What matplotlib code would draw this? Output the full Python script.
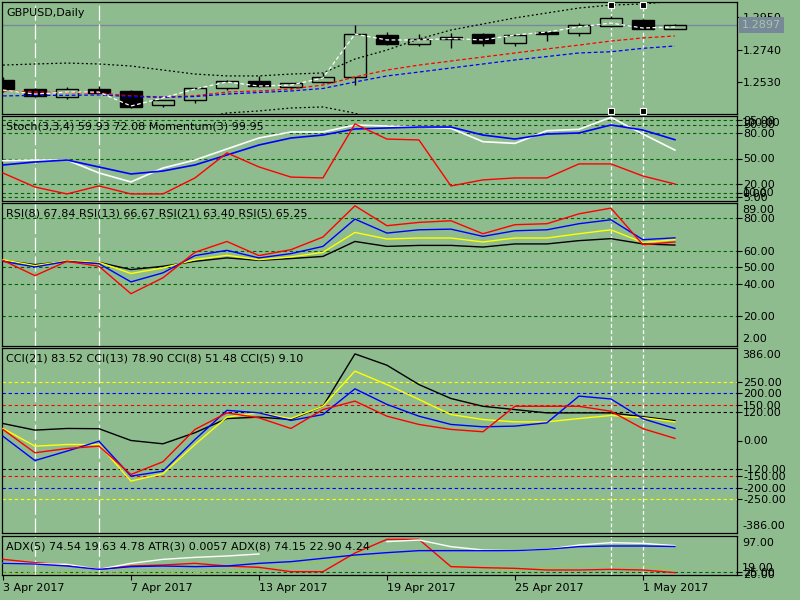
import matplotlib
matplotlib.use('Agg')
import matplotlib.pyplot as plt
import matplotlib.transforms as mtrans
import numpy as np

BG = '#8fbc8f'
LVL = '#006400'
W, H = 800, 600

# GBPUSD daily candles, 3 Apr 2017 .. 2 May 2017
opens  = [1.2544, 1.2486, 1.2434, 1.2486, 1.2473, 1.2382, 1.2414, 1.2492, 1.2537, 1.2499, 1.2531,
          1.2563, 1.2834, 1.2776, 1.2808, 1.2840, 1.2782, 1.2853, 1.2847, 1.2892, 1.2931, 1.2873]
highs  = [1.2563, 1.2492, 1.2499, 1.2505, 1.2479, 1.2416, 1.2495, 1.2544, 1.2569, 1.2527, 1.2589,
          1.2898, 1.2853, 1.2840, 1.2847, 1.2847, 1.2837, 1.2860, 1.2911, 1.2956, 1.2937, 1.2905]
lows   = [1.2466, 1.2434, 1.2421, 1.2458, 1.2363, 1.2370, 1.2395, 1.2479, 1.2499, 1.2486, 1.2524,
          1.2511, 1.2769, 1.2763, 1.2750, 1.2763, 1.2763, 1.2795, 1.2827, 1.2886, 1.2870, 1.2870]
closes = [1.2486, 1.2440, 1.2486, 1.2461, 1.2370, 1.2414, 1.2492, 1.2537, 1.2505, 1.2524, 1.2563,
          1.2840, 1.2776, 1.2808, 1.2821, 1.2782, 1.2834, 1.2840, 1.2898, 1.2944, 1.2873, 1.2897]
last_price = 1.2897

# moving averages / bands on the price chart
ma_white = [1.2479, 1.2453, 1.2466, 1.2466, 1.2376, 1.2428, 1.2486, 1.2531, 1.2505, 1.2511, 1.2557,
            1.2840, 1.2802, 1.2802, 1.2811, 1.2802, 1.2834, 1.2853, 1.2886, 1.2911, 1.2879, 1.2886]
ma_red   = [1.2473, 1.2466, 1.2463, 1.2460, 1.2441, 1.2434, 1.2442, 1.2466, 1.2473, 1.2486, 1.2511,
            1.2563, 1.2608, 1.2640, 1.2666, 1.2692, 1.2718, 1.2744, 1.2769, 1.2795, 1.2815, 1.2828]
ma_blue  = [1.2441, 1.2444, 1.2445, 1.2447, 1.2437, 1.2432, 1.2437, 1.2453, 1.2463, 1.2473, 1.2489,
            1.2531, 1.2570, 1.2595, 1.2621, 1.2647, 1.2673, 1.2695, 1.2718, 1.2726, 1.2748, 1.2763]
band_up  = [1.2640, 1.2647, 1.2653, 1.2647, 1.2634, 1.2608, 1.2582, 1.2570, 1.2570, 1.2582, 1.2589,
            1.2679, 1.2737, 1.2808, 1.2866, 1.2905, 1.2944, 1.2976, 1.3008, 1.3027, 1.3034, 1.3053]
band_dn  = [1.2290, 1.2290, 1.2285, 1.2280, 1.2270, 1.2275, 1.2290, 1.2331, 1.2344, 1.2363, 1.2370,
            1.2330, 1.2250, 1.2200, 1.2170, 1.2150, 1.2130, 1.2110, 1.2090, 1.2080, 1.2070, 1.2060]

# Stochastic + Momentum
stoch_main = [47.4, 48.2, 48.2, 33.0, 22.4, 38.8, 48.2, 61.2, 74.1, 81.2, 81.2,
              89.4, 88.2, 87.0, 85.5, 69.8, 67.8, 82.7, 84.3, 98.4, 78.8, 59.9]
stoch_sig  = [42.4, 45.9, 48.2, 40.0, 31.8, 35.3, 42.4, 54.1, 65.9, 74.1, 77.6,
              84.7, 85.9, 87.0, 87.0, 77.6, 72.9, 78.8, 80.0, 89.4, 83.5, 72.1]
momentum   = [100.46, 99.81, 99.49, 99.86, 99.49, 99.49, 100.23, 101.39, 100.74, 100.27, 100.23,
              102.73, 102.03, 101.99, 99.86, 100.14, 100.23, 100.23, 100.88, 100.88, 100.32, 99.95]

# RSI
rsi5  = [54.1, 44.8, 53.5, 50.5, 33.8, 43.5, 59.0, 65.6, 57.0, 60.6, 68.3,
         87.3, 75.2, 77.2, 78.2, 70.3, 75.8, 76.4, 82.4, 85.9, 63.6, 65.3]
rsi8  = [53.5, 50.1, 53.5, 52.1, 41.0, 46.5, 57.0, 60.2, 55.6, 58.2, 62.6,
         79.2, 70.7, 72.7, 73.1, 68.7, 72.1, 72.7, 76.4, 78.8, 66.7, 67.8]
rsi13 = [54.5, 50.9, 53.9, 52.9, 46.1, 49.5, 54.5, 57.2, 54.5, 56.2, 59.0,
         71.1, 67.1, 67.7, 67.7, 65.3, 67.7, 67.7, 70.3, 72.7, 65.0, 66.7]
rsi21 = [54.1, 51.5, 53.5, 52.9, 48.5, 50.5, 53.5, 55.6, 54.1, 55.2, 56.5,
         65.6, 62.6, 63.2, 63.2, 62.2, 64.1, 64.1, 66.1, 67.3, 64.1, 63.4]

# CCI
cci21 = [72, 44, 51, 50, 0, -14, 33, 93, 99, 89, 145, 367, 319, 237, 178, 145, 131, 117, 117, 117, 101, 84]
cci13 = [51, -24, -17, -17, -172, -141, -17, 99, 117, 93, 145, 294, 237, 174, 110, 89, 79, 79, 93, 106, 97, 79]
cci8  = [18, -85, -45, -3, -151, -130, 4, 128, 117, 85, 110, 219, 153, 103, 68, 58, 61, 75, 188, 176, 92, 51]
cci5  = [47, -52, -34, -24, -144, -90, 47, 117, 96, 51, 131, 167, 103, 68, 47, 37, 145, 145, 145, 124, 50, 9]

# ADX / ATR panel
adx_white = [42.3, 41.7, 40.3, 30.3, 42.3, 50.3, 54.3, 57.0, 61.0, np.nan, np.nan,
             np.nan, 85.7, 89.0, 75.7, 69.0, 67.7, 70.3, 79.0, 83.7, 82.3, 77.7]
adx_blue  = [42.3, 41.0, 37.0, 30.3, 35.7, 37.0, 35.7, 37.0, 42.3, 45.7, 52.3,
             59.0, 63.7, 67.7, 67.7, 67.7, 67.7, 70.3, 75.7, 77.0, 77.0, 76.0]
adx_red   = [50.3, 43.7, 39.0, 30.3, 37.0, 39.0, 42.3, 37.0, 34.3, 25.7, 25.7,
             63.0, 90.3, 90.3, 35.7, 33.7, 32.3, 29.0, 29.0, 30.3, 29.0, 23.7]
adx_lime  = [23.0, 23.0, 23.0, 23.0, 23.0, 23.0, 23.7, 25.7, 29.0, 37.0, 45.7,
             54.3, 50.3, 45.7, 39.0, 32.3, 27.7, 34.3, 41.0, 42.3, 37.0, 30.3]

tick_bars = [0, 4, 8, 12, 16, 20]
tick_labels = ['3 Apr 2017', '7 Apr 2017', '13 Apr 2017', '19 Apr 2017', '25 Apr 2017', '1 May 2017']
vline_long = [1, 3]
vline_short = [19, 20]

x = np.arange(len(closes))

fig = plt.figure(figsize=(8, 6), dpi=100, facecolor=BG)


def rect(top, bottom, left=2, right=737):
    return [left / W, 1 - bottom / H, (right - left) / W, (bottom - top) / H]


def right_ticks(ax):
    ax.yaxis.tick_right()
    ax.tick_params(axis='y', direction='out', length=3.5, width=0.8, pad=1, labelsize=8, colors='black')


def style(ax):
    ax.set_facecolor(BG)
    ax.set_xlim(-0.03, 22.94)
    for s in ax.spines.values():
        s.set_color('black')
        s.set_linewidth(0.9)
    right_ticks(ax)
    ax.tick_params(axis='x', bottom=False, labelbottom=False)


def title(ax, text):
    tr = mtrans.offset_copy(ax.transAxes, fig=fig, x=4, y=-10.5, units='dots')
    ax.text(0, 1, text, transform=tr, fontsize=8, va='center', ha='left', color='black', zorder=20)


def edge_label(ax, text, top):
    tr = mtrans.offset_copy(ax.transAxes, fig=fig, x=5, y=-7 if top else 7, units='dots')
    ax.text(1, 1 if top else 0, text, transform=tr, fontsize=8, va='center', ha='left', clip_on=False)


def levels(ax, vals, colors):
    for v, col in zip(vals, colors):
        ax.axhline(v, color=col, lw=0.8, ls=(0, (3, 2.5)), zorder=1)


def vlines(ax, full=True):
    for b in vline_long:
        ax.axvline(b, color='white', lw=0.9, ls=(0, (12, 3)), zorder=1.5)
    for b in vline_short:
        if full:
            ax.axvline(b, color='white', lw=0.9, ls=(0, (3, 2)), zorder=1.5)
        else:
            ax.axvline(b, ymin=0.027, ymax=0.973, color='white', lw=0.9, ls=(0, (3, 2)), zorder=1.5)


# ---- price panel
ax = fig.add_axes(rect(2, 114))
style(ax)
ax.set_ylim(1.23244, 1.30468)
ax.set_yticks([1.2530, 1.2740, 1.2950])
ax.set_yticklabels(['1.2530', '1.2740', '1.2950'])
vlines(ax, full=False)
ax.axhline(last_price, color='#778899', lw=1, zorder=1.2)
o = np.array(opens)
c = np.array(closes)
ax.vlines(x, lows, highs, color='black', lw=1, zorder=2)
ax.bar(x, np.maximum(np.abs(c - o), 0.00005), bottom=np.minimum(o, c), width=0.69,
       color=np.where(c >= o, BG, 'black'), edgecolor='black', lw=1, zorder=3)
ax.plot(x, band_up, color='black', lw=0.9, ls=(0, (1.5, 2)), zorder=4)
ax.plot(x, band_dn, color='black', lw=0.9, ls=(0, (1.5, 2)), zorder=4)
ax.plot(x, ma_red, color='red', lw=0.9, ls=(0, (3, 2)), zorder=4)
ax.plot(x, ma_blue, color='blue', lw=0.9, ls=(0, (3, 2)), zorder=4)
ax.plot(x, ma_white, color='white', lw=0.9, ls=(0, (3, 2)), zorder=5)
blend = mtrans.blended_transform_factory(ax.transData, ax.transAxes)
for yy in (0.027, 0.973):
    ax.plot(vline_short, [yy] * len(vline_short), transform=blend, ls='none', marker='s', ms=4,
            mfc='black', mec='white', mew=0.8, clip_on=False, zorder=6)
ax.text(1, last_price, '1.2897', transform=mtrans.offset_copy(
    mtrans.blended_transform_factory(ax.transAxes, ax.transData), fig=fig, x=5, y=0, units='dots'),
        fontsize=8, va='center', ha='left', color='#a9c4a9', clip_on=False, zorder=10,
        bbox=dict(boxstyle='square,pad=0.25', fc='#778899', ec='none'))
title(ax, 'GBPUSD,Daily')

# ---- stochastic panel
ax = fig.add_axes(rect(116, 201))
style(ax)
axm = ax.twinx()
axm.set_ylim(99.163, 103.098)
axm.axis('off')
axm.plot(x, momentum, color='red', lw=1.0)
right_ticks(ax)
ax.set_ylim(0, 100)
st_lv = [95, 90, 80, 50, 20, 10, 5]
ax.set_yticks(st_lv)
ax.set_yticklabels([f'{v:.2f}' for v in st_lv])
levels(ax, st_lv, [LVL] * len(st_lv))
vlines(ax)
ax.plot(x, stoch_main, color='white', lw=1.2, zorder=3)
ax.plot(x, stoch_sig, color='blue', lw=1.2, zorder=3)
edge_label(ax, '100.00', True)
edge_label(ax, '0.00', False)
title(axm, 'Stoch(3,3,4) 59.93 72.08 Momentum(3) 99.95')

# ---- RSI panel
ax = fig.add_axes(rect(203, 346))
style(ax)
ax.set_ylim(2, 89)
rsi_lv = [80, 60, 50, 40, 20]
ax.set_yticks(rsi_lv)
ax.set_yticklabels([f'{v:.2f}' for v in rsi_lv])
levels(ax, rsi_lv, [LVL] * len(rsi_lv))
vlines(ax)
ax.plot(x, rsi21, color='black', lw=1.0, zorder=3)
ax.plot(x, rsi13, color='yellow', lw=1.0, zorder=3)
ax.plot(x, rsi8, color='blue', lw=1.0, zorder=3)
ax.plot(x, rsi5, color='red', lw=1.0, zorder=3)
edge_label(ax, '89.00', True)
edge_label(ax, '2.00', False)
title(ax, 'RSI(8) 67.84 RSI(13) 66.67 RSI(21) 63.40 RSI(5) 65.25')

# ---- CCI panel
ax = fig.add_axes(rect(348, 533))
style(ax)
ax.set_ylim(-392, 392)
cci_lv = [250, 200, 150, 120, 0, -120, -150, -200, -250]
ax.set_yticks(cci_lv)
ax.set_yticklabels([f'{v:.2f}' for v in cci_lv])
levels(ax, [250, 200, 150, 120, -120, -150, -200, -250],
       ['yellow', 'blue', 'red', 'black', 'black', 'red', 'blue', 'yellow'])
vlines(ax)
ax.plot(x, cci21, color='black', lw=1.0, zorder=3)
ax.plot(x, cci13, color='yellow', lw=1.0, zorder=3)
ax.plot(x, cci8, color='blue', lw=1.0, zorder=3)
ax.plot(x, cci5, color='red', lw=1.0, zorder=3)
edge_label(ax, '386.00', True)
edge_label(ax, '-386.00', False)
title(ax, 'CCI(21) 83.52 CCI(13) 78.90 CCI(8) 51.48 CCI(5) 9.10')

# ---- ADX panel
ax = fig.add_axes(rect(536, 575))
style(ax)
ax.set_ylim(19, 97)
ax.set_yticks([25, 20])
ax.set_yticklabels(['25.00', '20.00'])
levels(ax, [25, 20], [LVL, LVL])
vlines(ax)
ax.plot(x, adx_lime, color='#9acd32', lw=0.9, ls=(0, (2, 2)), zorder=3)
ax.plot(x, adx_red, color='red', lw=1.0, zorder=3)
ax.plot(x, adx_white, color='white', lw=1.0, zorder=3)
ax.plot(x, adx_blue, color='blue', lw=1.0, zorder=3)
edge_label(ax, '97.00', True)
edge_label(ax, '19.00', False)
title(ax, 'ADX(5) 74.54 19.63 4.78 ATR(3) 0.0057 ADX(8) 74.15 22.90 4.24')
ax.set_xticks(tick_bars)
ax.set_xticklabels(tick_labels, ha='left')
ax.tick_params(axis='x', bottom=True, labelbottom=True, direction='out', length=3.5, width=0.8,
               pad=2, labelsize=8, colors='black')

fig.savefig('out.png', dpi=100, facecolor=BG)
